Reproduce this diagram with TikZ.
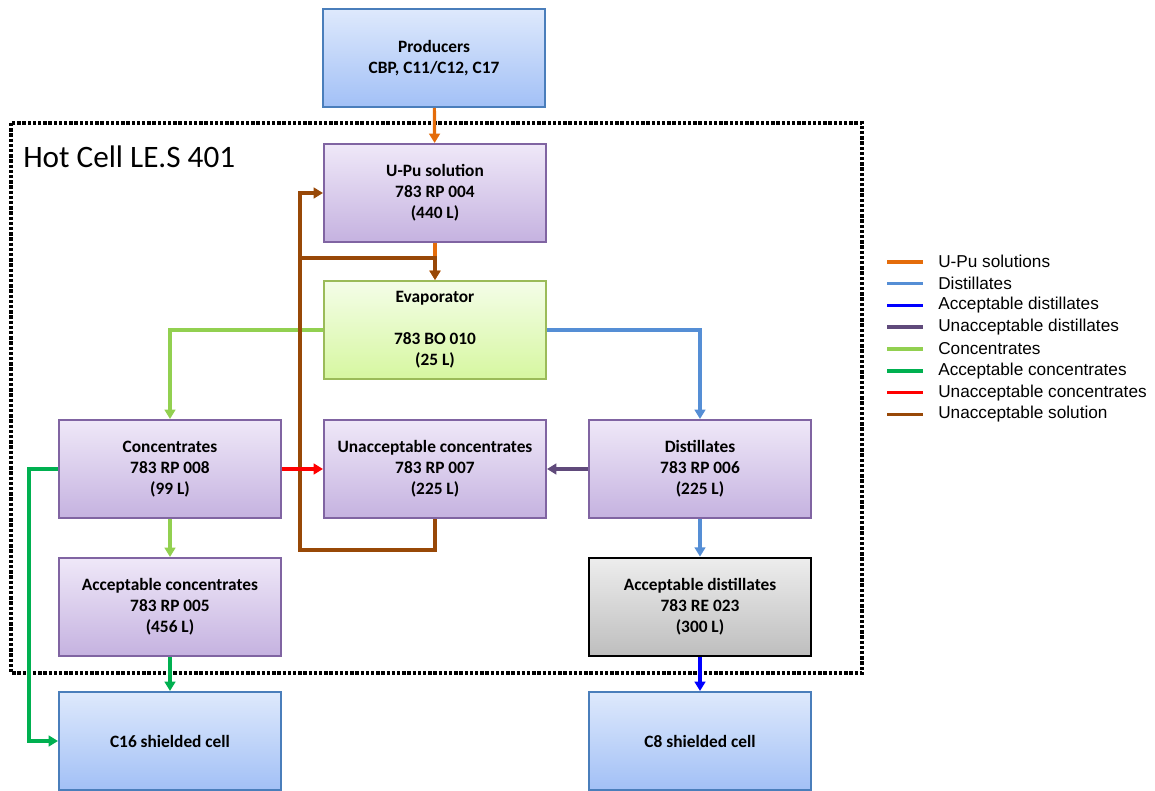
\documentclass[tikz,border=0pt]{standalone}
\usepackage{fontspec}
\setmainfont{Carlito}
\newfontfamily\legendfont{Liberation Sans}
\usetikzlibrary{arrows.meta}
\def\tankwidth{166.5pt}
\def\tankheight{73.5pt}
\definecolor{upuorange}{HTML}{E46C0A}
\definecolor{distblue}{HTML}{558ED5}
\definecolor{accdistblue}{HTML}{0000FF}
\definecolor{undistpurple}{HTML}{604A7B}
\definecolor{concgreen}{HTML}{92D050}
\definecolor{accconcgreen}{HTML}{00B050}
\definecolor{unconcred}{HTML}{FF0000}
\definecolor{unsolbrown}{HTML}{984807}

\begin{document}
\begin{tikzpicture}[x=0.75pt,y=-0.75pt,>={Triangle[length=7pt,width=8pt]}]
            \tikzstyle{tank}=[rectangle,minimum width=\tankwidth,minimum height=\tankheight,inner sep=0pt,align=center,font=\bfseries\fontsize{13}{15.75}\selectfont,line width=1.5pt]
            \tikzstyle{outside}=[tank,draw={rgb,255:red,74;green,126;blue,187},top color={rgb,255:red,222;green,233;blue,252},bottom color={rgb,255:red,162;green,192;blue,246}]
            \tikzstyle{vessel}=[tank,draw={rgb,255:red,128;green,100;blue,162},top color={rgb,255:red,239;green,232;blue,248},bottom color={rgb,255:red,197;green,178;blue,224}]
            \tikzstyle{evaporator}=[tank,draw={rgb,255:red,155;green,187;blue,89},top color={rgb,255:red,244;green,253;blue,232},bottom color={rgb,255:red,214;green,247;blue,160}]
            \tikzstyle{tank ok}=[tank,draw=black,line width=2pt,top color={rgb,255:red,237;green,237;blue,237},bottom color={rgb,255:red,190;green,190;blue,190}]
            \tikzstyle{flow}=[->,line width=2.4pt]
            \tikzstyle{legend}=[font=\legendfont\fontsize{12.9}{15}\selectfont,inner sep=0pt]

            \useasboundingbox (0,0) rectangle (1155,791);

            % Hot cell boundary
            \draw[line width=2.6pt,dash pattern=on 2.6pt off 1.3pt] (11,123) rectangle (862,673);
            \node[anchor=west,inner sep=0pt,font=\fontsize{23.4}{28}\selectfont] (hotcell) at (23,157) {Hot Cell LE.S 401};

            % Tanks and cells
            \node[outside] (PROD) at (434,58) {Producers\\CBP, C11/C12, C17};
            \node[vessel] (UPU) at (435,193) {U-Pu solution\\783 RP 004\\(440 L)};
            \node[evaporator] (EVAP) at (435,330) {Evaporator\\[15.75pt]783 BO 010\\(25 L)};
            \node[vessel] (CONC) at (170,469) {Concentrates\\783 RP 008\\(99 L)};
            \node[vessel] (UNCONC) at (435,469) {Unacceptable concentrates\\783 RP 007\\(225 L)};
            \node[vessel] (DIST) at (700,469) {Distillates\\783 RP 006\\(225 L)};
            \node[vessel] (ACCCONC) at (170,607) {Acceptable concentrates\\783 RP 005\\(456 L)};
            \node[tank ok] (ACCDIST) at (700,607) {Acceptable distillates\\783 RE 023\\(300 L)};
            \node[outside] (C16) at (170,741) {C16 shielded cell};
            \node[outside] (C8) at (700,741) {C8 shielded cell};

            \coordinate (split) at (300,258);
            \coordinate (return) at (300,550);
            \coordinate (bypass) at (29,469);

            % Connect the tanks
            \draw[flow,upuorange] (PROD) -- (UPU);
            \draw[flow,upuorange] (UPU) -- (EVAP);
            \draw[flow,concgreen] (EVAP.west) -| (CONC.north);
            \draw[flow,concgreen] (CONC) -- (ACCCONC);
            \draw[flow,accconcgreen] (ACCCONC) -- (C16);
            \draw[flow,accconcgreen] (CONC.west) -- (bypass) |- (C16.west);
            \draw[flow,unsolbrown] (UNCONC.south) |- (return) |- (UPU.west);
            \draw[flow,unsolbrown] (split) -| (EVAP.north);
            \draw[flow,unconcred] (CONC) -- (UNCONC);
            \draw[flow,undistpurple] (DIST) -- (UNCONC);
            \draw[flow,distblue] (EVAP.east) -| (DIST.north);
            \draw[flow,distblue] (DIST) -- (ACCDIST);
            \draw[flow,accdistblue] (ACCDIST) -- (C8);

            % Legend
            \foreach \col / \txt [count=\i] in {upuorange/U-Pu solutions,distblue/Distillates,accdistblue/Acceptable distillates,undistpurple/Unacceptable distillates,concgreen/Concentrates,accconcgreen/Acceptable concentrates,unconcred/Unacceptable concentrates,unsolbrown/Unacceptable solution}
            {
                \draw[\col,line width=2.8pt] (887,240+21.8*\i) -- (923,240+21.8*\i);
                \node[legend,anchor=west] (LEG-\i) at (938,240+21.8*\i) {\txt};
            }
        \end{tikzpicture}
\end{document}
